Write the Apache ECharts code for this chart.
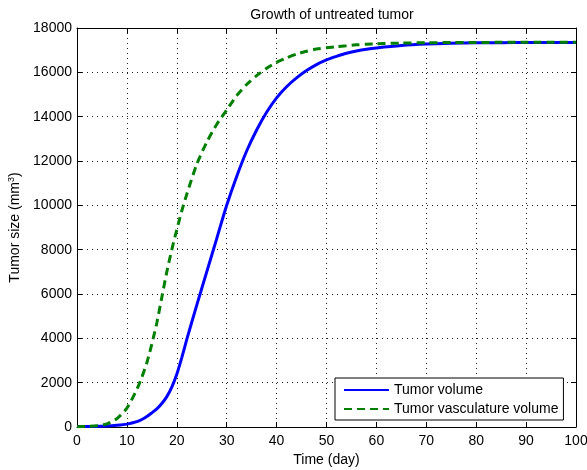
<!DOCTYPE html>
<html>
<head>
<meta charset="utf-8">
<script src="https://cdn.jsdelivr.net/npm/echarts@6/dist/echarts.min.js"></script>
<style>
    html, body { margin: 0; padding: 0; background: #fff; }
    #chart { width: 587px; height: 470px; }
</style>
</head>
<body>
<div id="chart"></div>
<script>
// days sampled along the x axis
var days = [0, 2, 4, 6, 8, 10, 12, 13, 14, 15, 16, 17, 18, 19, 20, 21, 22, 24, 26, 28, 30, 32, 34, 36, 38, 40,
    42, 44, 46, 48, 50, 52, 54, 56, 58, 60, 65, 70, 75, 80, 85, 90, 100];

var tumorVolume = [20, 22, 28, 40, 75, 130, 240, 340, 470, 640, 820, 1060, 1370, 1800, 2380, 3130, 3950,
    5500, 7000, 8500, 10000, 11300, 12450, 13400, 14200, 14850, 15350, 15750, 16080, 16350, 16560,
    16720, 16860, 16960, 17040, 17100, 17210, 17275, 17310, 17330, 17340, 17345, 17350];

var vascVolume = [10, 25, 60, 140, 380, 850, 1700, 2250, 2900, 3750, 4700, 5850, 7000, 8000, 8900, 9750, 10500,
    11850, 12850, 13650, 14300, 14950, 15450, 15850, 16180, 16450, 16650, 16820, 16950, 17050, 17110,
    17160, 17200, 17240, 17270, 17290, 17320, 17335, 17345, 17350, 17352, 17353, 17355];

var seriesNames = ['Tumor volume', 'Tumor vasculature volume'];

function pairs(xs, ys) {
    return xs.map(function (x, i) { return [x, ys[i]]; });
}

var font = "'Liberation Sans', Arial, Helvetica, sans-serif";
var black = '#000';

var myChart = echarts.init(document.getElementById('chart'));
var option;

function xAxisBase(pos) {
    return {
        type: 'value',
        position: pos,
        min: 0,
        max: 100,
        interval: 10,
        axisLine: { show: true, onZero: false, lineStyle: { color: black, width: 1 } },
        axisTick: { show: true, inside: true, length: 5, lineStyle: { color: black } },
        axisLabel: { show: false },
        splitLine: { show: false }
    };
}

function yAxisBase(pos) {
    return {
        type: 'value',
        position: pos,
        min: 0,
        max: 18000,
        interval: 2000,
        axisLine: { show: true, onZero: false, lineStyle: { color: black, width: 1 } },
        axisTick: { show: true, inside: true, length: 5, lineStyle: { color: black } },
        axisLabel: { show: false },
        splitLine: { show: false }
    };
}

var xBottom = xAxisBase('bottom');
xBottom.axisLabel = {
    show: true, color: black, fontSize: 14, fontFamily: font, margin: 7,
    formatter: function (v) { return String(v); }
};
xBottom.splitLine = { show: true, lineStyle: { color: '#222', type: [1, 4], width: 1 } };
xBottom.name = 'Time (day)';
xBottom.nameLocation = 'middle';
xBottom.nameGap = 25;
xBottom.nameTextStyle = { color: black, fontSize: 14, fontFamily: font };

var yLeft = yAxisBase('left');
yLeft.axisLabel = {
    show: true, color: black, fontSize: 14, fontFamily: font, margin: 5,
    formatter: function (v) { return String(v); }
};
yLeft.splitLine = { show: true, lineStyle: { color: '#222', type: [1, 4], width: 1 } };
yLeft.name = 'Tumor size (mm{sup|3})';
yLeft.nameLocation = 'middle';
yLeft.nameGap = 48;
yLeft.nameTextStyle = {
    color: black, fontSize: 14, fontFamily: font,
    rich: { sup: { fontSize: 9, fontFamily: font, color: black, verticalAlign: 'top', padding: [0, 0, 8, 0] } }
};

option = {
    backgroundColor: '#fff',
    animation: false,
    title: {
        text: 'Growth of untreated tumor',
        left: 327,
        textAlign: 'center',
        top: 3,
        textStyle: { color: black, fontSize: 14, fontWeight: 'normal', fontFamily: font }
    },
    grid: {
        left: 77,
        top: 28,
        right: 11,
        bottom: 43,
        containLabel: false,
        outerBoundsMode: 'none'
    },
    legend: {
        data: seriesNames,
        orient: 'vertical',
        left: 335,
        top: 378,
        padding: [4, 5, 3, 8],
        itemGap: 3,
        itemWidth: 45,
        itemHeight: 16,
        backgroundColor: '#fff',
        borderColor: black,
        borderWidth: 1,
        borderRadius: 0,
        itemStyle: { opacity: 0 },
        textStyle: { color: black, fontSize: 14, fontFamily: font, lineHeight: 16 }
    },
    xAxis: [xBottom, xAxisBase('top')],
    yAxis: [yLeft, yAxisBase('right')],
    series: [
        {
            name: seriesNames[0],
            type: 'line',
            xAxisIndex: 0,
            yAxisIndex: 0,
            data: pairs(days, tumorVolume),
            symbol: 'none',
            smooth: 0.25,
            color: '#0000ff',
            lineStyle: { color: '#0000ff', width: 3 },
            z: 3
        },
        {
            name: seriesNames[1],
            type: 'line',
            xAxisIndex: 0,
            yAxisIndex: 0,
            data: pairs(days, vascVolume),
            symbol: 'none',
            smooth: 0.25,
            color: '#008000',
            lineStyle: { color: '#008000', width: 3, type: [8, 5] },
            z: 4
        }
    ]
};

myChart.setOption(option);
</script>
</body>
</html>
